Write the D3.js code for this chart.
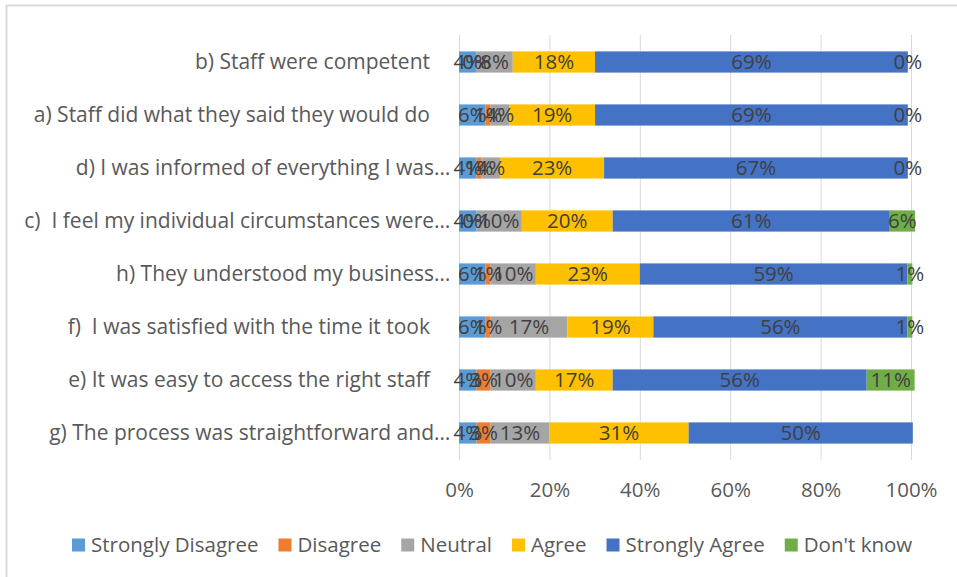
<!DOCTYPE html>
<html>
<head>
<meta charset="utf-8">
<script src="https://cdn.jsdelivr.net/npm/d3@7"></script>
<style>
  html, body { margin: 0; padding: 0; background: #fff; }
  svg { display: block; }
  text { font-family: "Open Sans", "Noto Sans", sans-serif; white-space: pre; }
</style>
</head>
<body>
<svg id="chart" width="957" height="577"></svg>
<script>
// Survey statements, top to bottom
const categories = [
  "b) Staff were competent",
  "a) Staff did what they said they would do",
  "d) I was informed of everything I was…",
  "c)  I feel my individual circumstances were…",
  "h) They understood my business…",
  "f)  I was satisfied with the time it took",
  "e) It was easy to access the right staff",
  "g) The process was straightforward and…"
];

const seriesNames = ["Strongly Disagree", "Disagree", "Neutral", "Agree", "Strongly Agree", "Don't know"];
const seriesColors = ["#5B9BD5", "#ED7D31", "#A5A5A5", "#FFC000", "#4472C4", "#70AD47"];

// Share of responses (%) per statement
const stronglyDisagree = [3.9, 5.9, 3.9, 3.9, 5.9, 5.9, 3.9, 3.9];
const disagree         = [0,   1.1, 1.1, 0,   1.1, 1.1, 3.1, 3.1];
const neutral          = [8.0, 4.1, 4.1, 10.0, 10.0, 17.0, 10.0, 13.0];
const agree            = [18.2, 19.0, 23.0, 20.1, 23.0, 19.0, 17.0, 30.8];
const stronglyAgree    = [69.2, 69.2, 67.2, 61.3, 59.2, 56.2, 56.2, 49.6];
const dontKnow         = [0,   0,   0,   5.6, 1.1, 1.1, 10.6, null];

const tickValues = [0, 20, 40, 60, 80, 100];

const seriesValues = [stronglyDisagree, disagree, neutral, agree, stronglyAgree, dontKnow];

const svg = d3.select("#chart");

// Chart frame
svg.append("rect")
  .attr("x", 6.5).attr("y", 5.5)
  .attr("width", 1000).attr("height", 1000)
  .attr("fill", "none")
  .attr("stroke", "#d9d9d9")
  .attr("stroke-width", 2);

const x = d3.scaleLinear().domain([0, 100]).range([459, 911]);
const y = d3.scaleBand().domain(categories).range([35.5, 459.5])
  .paddingInner(0.6).paddingOuter(0.3);

// Vertical gridlines
svg.append("g").selectAll("line")
  .data(tickValues).join("line")
  .attr("x1", d => x(d) + 0.5).attr("x2", d => x(d) + 0.5)
  .attr("y1", 35).attr("y2", 460)
  .attr("stroke", "#d9d9d9").attr("stroke-width", 1);

// Bottom axis labels
const xAxis = d3.axisBottom(x).tickValues(tickValues).tickFormat(d => d + "%").tickSize(0).tickPadding(0);
const gx = svg.append("g").attr("transform", "translate(0,482)").call(xAxis);
gx.select(".domain").remove();
gx.selectAll("text")
  .attr("font-family", "Open Sans")
  .attr("font-size", 20.5)
  .attr("fill", "#595959");

// Category labels; truncated ones let their ellipsis hang past the label edge
const yAxis = d3.axisLeft(y).tickSize(0).tickPadding(0);
const gy = svg.append("g").attr("transform", "translate(430,0)").call(yAxis);
gy.select(".domain").remove();
const probe = svg.append("text").attr("font-size", 21).text("…");
const ellipsisW = probe.node().getComputedTextLength();
probe.remove();
gy.selectAll("text")
  .attr("font-family", "Open Sans")
  .attr("font-size", 21)
  .attr("fill", "#595959")
  .attr("dy", "0.35em")
  .attr("dx", d => d.endsWith("…") ? ellipsisW + 4 : 0);

// Stacked segments
const seriesSegs = [];
seriesValues.forEach((vals, si) => {
  const segs = [];
  categories.forEach((c, ci) => {
    const v = vals[ci];
    if (v === null) return;
    let start = 0;
    for (let k = 0; k < si; k++) start += seriesValues[k][ci] || 0;
    segs.push({ cat: c, x0: start, x1: start + v, v, series: si });
  });
  svg.append("g").selectAll("rect").data(segs).join("rect")
    .attr("x", d => x(d.x0))
    .attr("y", d => y(d.cat))
    .attr("width", d => x(d.x1) - x(d.x0))
    .attr("height", y.bandwidth())
    .attr("fill", seriesColors[si]);
  seriesSegs.push(...segs);
});

// Value labels, centred in each segment
svg.append("g").selectAll("text").data(seriesSegs).join("text")
  .attr("x", d => x((d.x0 + d.x1) / 2))
  .attr("y", d => y(d.cat) + y.bandwidth() / 2)
  .attr("dy", "0.36em")
  .attr("text-anchor", "middle")
  .attr("font-size", 20.5)
  .attr("fill", "#404040")
  .text(d => Math.round(d.v) + "%");

// Legend, laid out left to right
const legend = svg.append("g").attr("transform", "translate(72,545)");
let lx = 0;
seriesNames.forEach((name, i) => {
  const item = legend.append("g").attr("transform", `translate(${lx},0)`);
  item.append("rect")
    .attr("x", 0).attr("y", -6.5)
    .attr("width", 13).attr("height", 13)
    .attr("fill", seriesColors[i]);
  const t = item.append("text")
    .attr("x", 19).attr("dy", "0.36em")
    .attr("font-size", 20.5)
    .attr("fill", "#595959")
    .text(name);
  lx += 19 + t.node().getComputedTextLength() + 20;
});
</script>
</body>
</html>
